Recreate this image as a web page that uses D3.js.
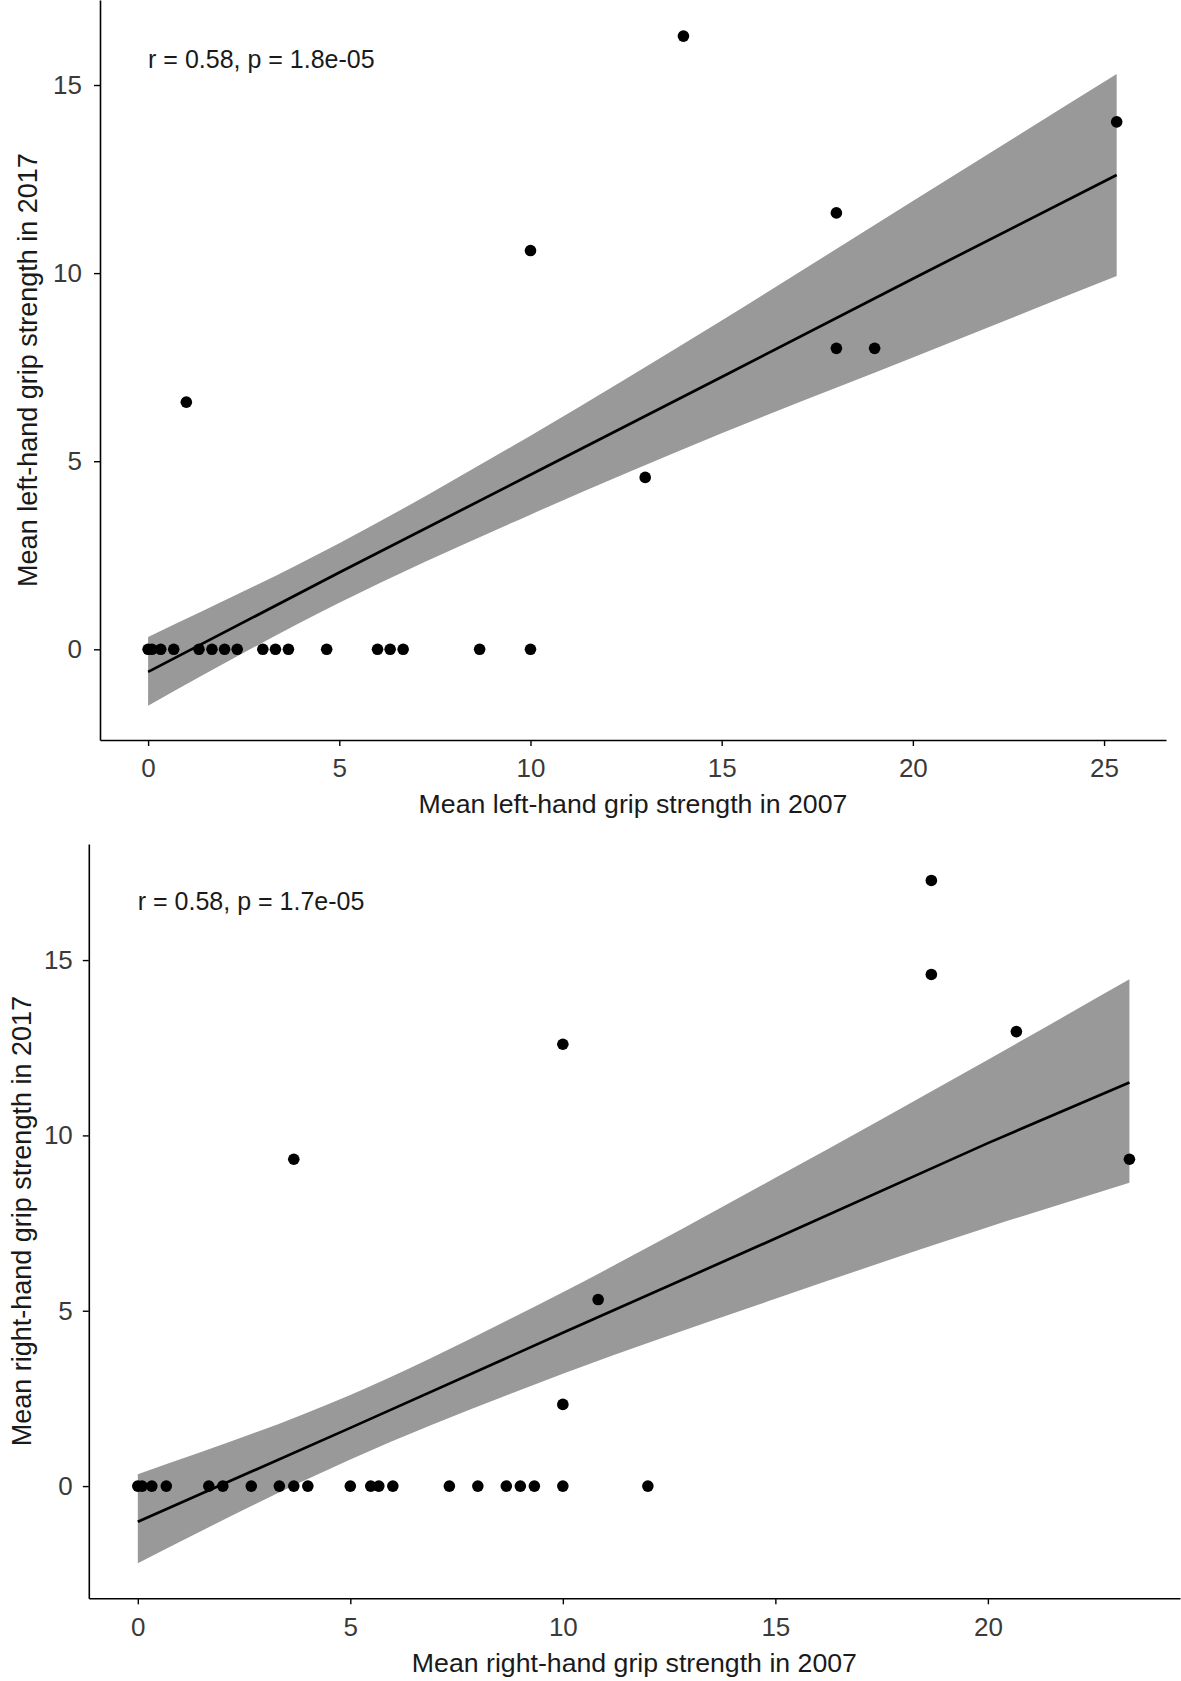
<!DOCTYPE html>
<html>
<head>
<meta charset="utf-8">
<script src="https://cdn.jsdelivr.net/npm/d3@7"></script>
<style>
  body { margin: 0; background: #fff; }
  svg { display: block; }
  text { font-family: "Liberation Sans", Arial, sans-serif; }
</style>
</head>
<body>
<svg id="chart" width="1181" height="1681"></svg>
<script>
// ---------- Top panel: left hand ----------
const leftX2007 = [0, 0.1, 0.33, 0.67, 1.33, 1.67, 2, 2.33, 3, 3.33, 3.67, 4.67, 6, 6.33, 6.67, 8.67, 10,
                   1, 10, 13, 14, 18, 18, 19, 25.33];
const leftY2017 = [0, 0, 0, 0, 0, 0, 0, 0, 0, 0, 0, 0, 0, 0, 0, 0, 0,
                   6.57, 10.6, 4.57, 16.3, 11.6, 8, 8, 14.02];
const leftFitX  = [0, 5, 10, 15, 20, 25.33];
const leftFit   = [-0.6, 2.04, 4.64, 7.24, 9.85, 12.61];
const leftLower = [-1.5, 1.24, 3.58, 5.74, 7.76, 9.92];
const leftUpper = [0.33, 2.82, 5.68, 8.74, 11.92, 15.29];
const leftXTicks = [0, 5, 10, 15, 20, 25];
const leftYTicks = [0, 5, 10, 15];
const leftLabel = "r = 0.58, p = 1.8e-05";
const leftXTitle = "Mean left-hand grip strength in 2007";
const leftYTitle = "Mean left-hand grip strength in 2017";

// ---------- Bottom panel: right hand ----------
const rightX2007 = [0, 0.1, 0.33, 0.67, 1.67, 2, 2.67, 3.33, 3.67, 4, 5, 5.48, 5.67, 6, 7.33, 8, 8.67, 9, 9.33, 10, 12,
                    3.67, 10, 10, 10.83, 18.67, 18.67, 20.67, 23.33];
const rightY2017 = [0, 0, 0, 0, 0, 0, 0, 0, 0, 0, 0, 0, 0, 0, 0, 0, 0, 0, 0, 0, 0,
                    9.32, 12.6, 2.33, 5.32, 17.27, 14.59, 12.96, 9.32];
const rightFitX  = [0, 5, 10, 15, 20, 23.33];
const rightFit   = [-1.02, 1.66, 4.37, 7.06, 9.78, 11.51];
const rightLower = [-2.2, 0.76, 3.20, 5.34, 7.38, 8.65];
const rightUpper = [0.34, 2.60, 5.53, 8.79, 12.16, 14.45];
const rightXTicks = [0, 5, 10, 15, 20];
const rightYTicks = [0, 5, 10, 15];
const rightLabel = "r = 0.58, p = 1.7e-05";
const rightXTitle = "Mean right-hand grip strength in 2007";
const rightYTitle = "Mean right-hand grip strength in 2017";

const svg = d3.select("#chart");

function drawPanel(cfg) {
  const x = d3.scaleLinear().domain(cfg.xDomain).range([cfg.left, cfg.right]);
  const y = d3.scaleLinear().domain(cfg.yDomain).range([cfg.bottom, cfg.top]);
  const g = svg.append("g");

  const band = cfg.fitX.map((v, i) => ({x: v, fit: cfg.fit[i], lo: cfg.lower[i], hi: cfg.upper[i]}));

  g.append("path")
    .datum(band)
    .attr("fill", "#999999")
    .attr("d", d3.area().curve(d3.curveMonotoneX)
      .x(d => x(d.x)).y0(d => y(d.lo)).y1(d => y(d.hi)));

  g.append("path")
    .datum(band)
    .attr("fill", "none")
    .attr("stroke", "#000")
    .attr("stroke-width", 2.7)
    .attr("d", d3.line().x(d => x(d.x)).y(d => y(d.fit)));

  g.selectAll("circle.pt")
    .data(cfg.px.map((v, i) => ({x: v, y: cfg.py[i]})))
    .join("circle")
    .attr("class", "pt")
    .attr("cx", d => x(d.x))
    .attr("cy", d => y(d.y))
    .attr("r", 5.8)
    .attr("fill", "#000");

  const xAxis = g.append("g")
    .attr("transform", `translate(0,${cfg.bottom})`)
    .call(d3.axisBottom(x).tickValues(cfg.xTicks).tickSize(6).tickSizeOuter(0).tickPadding(13).tickFormat(d3.format("d")));
  const yAxis = g.append("g")
    .attr("transform", `translate(${cfg.left},0)`)
    .call(d3.axisLeft(y).tickValues(cfg.yTicks).tickSize(6).tickSizeOuter(0).tickPadding(cfg.yPad).tickFormat(d3.format("d")));

  [xAxis, yAxis].forEach(a => {
    a.select(".domain").attr("stroke", "#000").attr("stroke-width", 1.6);
    a.selectAll(".tick line").attr("stroke", "#000").attr("stroke-width", 1.4);
    a.selectAll(".tick text").attr("fill", "#3a3a3a").style("font-size", "26px")
      .style("font-family", "'Liberation Sans', Arial, sans-serif");
  });

  g.append("text")
    .attr("x", x(0))
    .attr("y", cfg.labelY)
    .attr("fill", "#1a1a1a")
    .style("font-size", "25px")
    .text(cfg.label);

  g.append("text")
    .attr("x", (cfg.left + cfg.right) / 2)
    .attr("y", cfg.xTitleY)
    .attr("text-anchor", "middle")
    .attr("fill", "#1a1a1a")
    .style("font-size", "26.7px")
    .text(cfg.xTitle);

  g.append("text")
    .attr("transform", `translate(${cfg.yTitleX},${(cfg.top + cfg.bottom) / 2}) rotate(-90)`)
    .attr("text-anchor", "middle")
    .attr("fill", "#1a1a1a")
    .style("font-size", "27px")
    .text(cfg.yTitle);
}

drawPanel({
  left: 100, right: 1166, top: 0, bottom: 740,
  xDomain: [-1.258, 26.62], yDomain: [-2.411, 17.26],
  px: leftX2007, py: leftY2017,
  fitX: leftFitX, fit: leftFit, lower: leftLower, upper: leftUpper,
  xTicks: leftXTicks, yTicks: leftYTicks, yPad: 12,
  label: leftLabel, labelY: 68,
  xTitle: leftXTitle, xTitleY: 813,
  yTitle: leftYTitle, yTitleX: 37
});

drawPanel({
  left: 88.8, right: 1180, top: 844, bottom: 1598.3,
  xDomain: [-1.153, 24.52], yDomain: [-3.20, 18.31],
  px: rightX2007, py: rightY2017,
  fitX: rightFitX, fit: rightFit, lower: rightLower, upper: rightUpper,
  xTicks: rightXTicks, yTicks: rightYTicks, yPad: 10,
  label: rightLabel, labelY: 910,
  xTitle: rightXTitle, xTitleY: 1672,
  yTitle: rightYTitle, yTitleX: 31
});
</script>
</body>
</html>
